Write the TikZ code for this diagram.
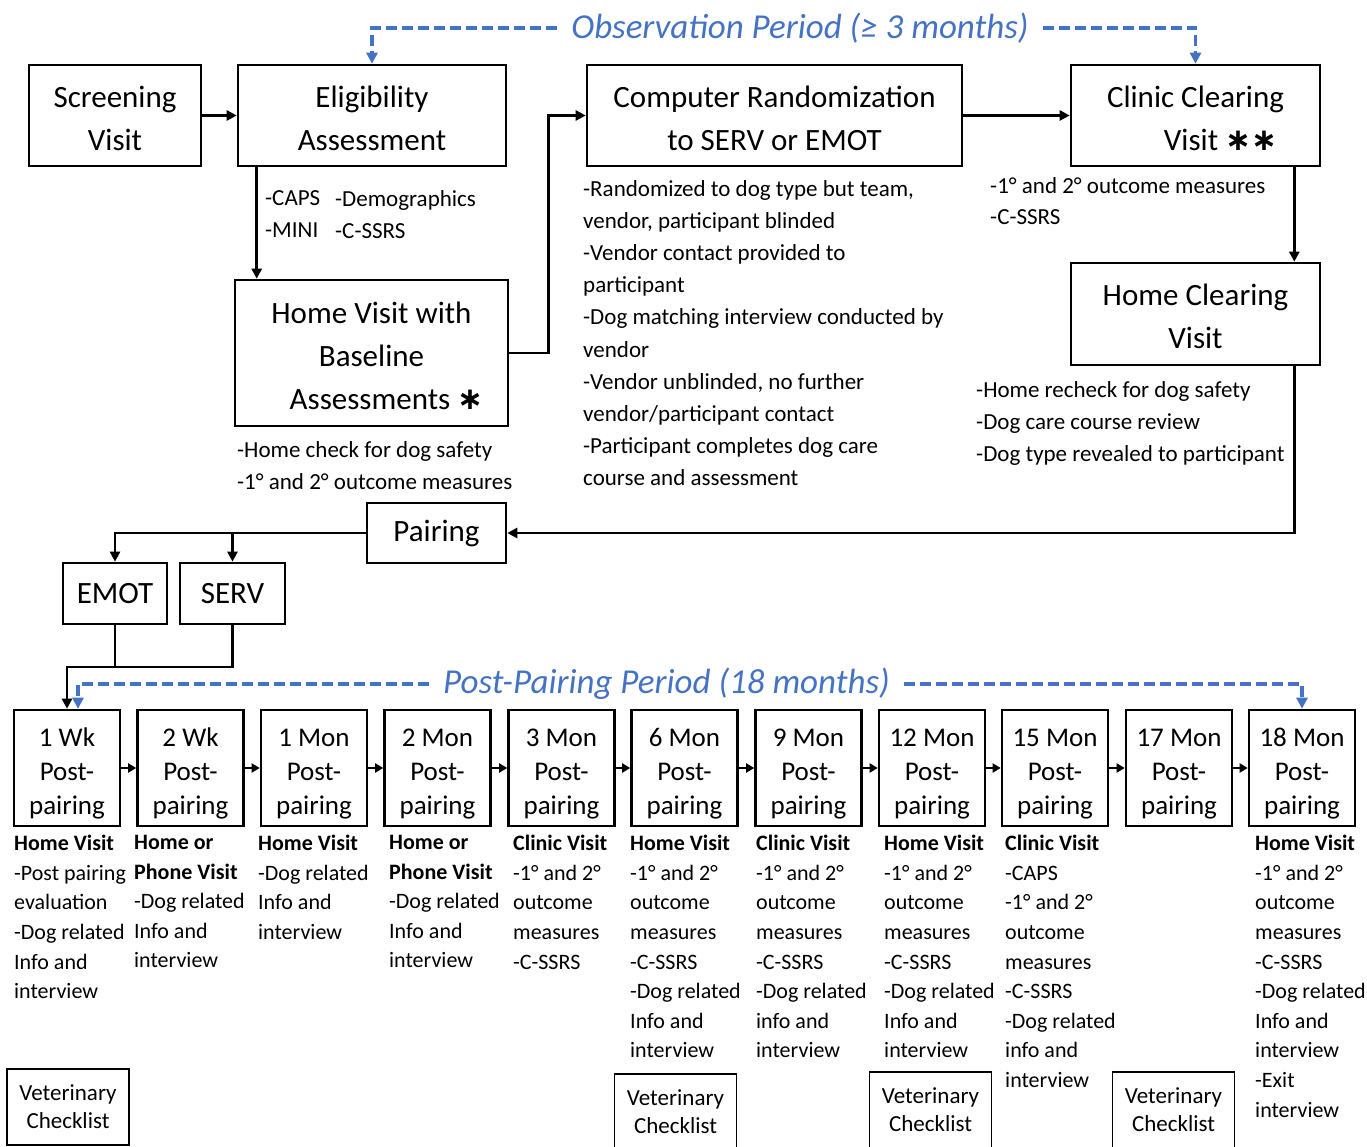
\documentclass[tikz,border=0pt]{standalone}
\usepackage{fontspec}
\setmainfont{Carlito}
\newfontfamily\starfont{DejaVu Sans}
\usetikzlibrary{arrows.meta}

\definecolor{perblue}{RGB}{68,114,196}
\newcommand{\bigstar}{{\starfont\bfseries ∗}}
\newcommand{\tup}[1]{\rule{0pt}{#1}}

\tikzset{
  box/.style={draw, line width=2.6pt, align=center, inner sep=0pt, font=\fontsize{31}{43}\selectfont},
  pbox/.style={draw, line width=2.6pt, align=center, inner sep=0pt, minimum width=106, minimum height=116, font=\fontsize{27}{34}\selectfont},
  vetbox/.style={draw, line width=1.3pt, align=center, inner sep=0pt, minimum width=122, minimum height=76, font=\fontsize{23}{28}\selectfont},
  desc/.style={anchor=north west, align=left, inner sep=0pt, font=\fontsize{23}{32.2}\selectfont},
  sdesc/.style={anchor=north west, align=left, inner sep=0pt, font=\fontsize{22}{29.6}\selectfont},
  conn/.style={line width=2.6pt, -{Triangle[length=10pt,width=10pt]}},
  link/.style={line width=2.6pt},
  period/.style={text=perblue, inner xsep=14pt, inner ysep=0pt, font=\fontsize{35}{40}\selectfont\itshape},
  pdash/.style={perblue, line width=3.5pt, dash pattern=on 11pt off 5pt, -{Triangle[length=11pt,width=11pt]}}
}

\begin{document}
\begin{tikzpicture}[x=1pt, y=-1pt]
  \useasboundingbox (0,0) rectangle (1367,1147);

  % upper part
  \node[box, minimum width=172, minimum height=101] (scr) at (115,115.5) {\tup{27pt}Screening\\Visit};
  \node[box, minimum width=268, minimum height=101] (elig) at (372,115.5) {\tup{27pt}Eligibility\\Assessment};
  \node[box, minimum width=375, minimum height=101] (rand) at (774.5,115.5) {\tup{27pt}Computer Randomization\\to SERV or EMOT};
  \node[box, minimum width=249, minimum height=101] (clinic) at (1195.5,115.5) {\tup{27pt}Clinic Clearing\\\hspace*{50pt}Visit \bigstar\bigstar};
  \node[box, minimum width=249, minimum height=102] (homeclr) at (1195.5,314) {\tup{27pt}Home Clearing\\Visit};
  \node[box, minimum width=273, minimum height=146] (homebase) at (371.5,353) {\tup{27pt}Home Visit with\\Baseline\\\hspace*{30pt}Assessments \bigstar};

  \node[desc] (eligA) at (265,190) {-CAPS\\-MINI};
  \node[desc] (eligB) at (335,190) {-Demographics\\-C-SSRS};
  \node[desc] (basedesc) at (237,441) {-Home check for dog safety\\-1° and 2° outcome measures};
  \node[desc] (randdesc) at (583,180) {-Randomized to dog type but team,\\vendor, participant blinded\\-Vendor contact provided to\\participant\\-Dog matching interview conducted by\\vendor\\-Vendor unblinded, no further\\vendor/participant contact\\-Participant completes dog care\\course and assessment};
  \node[desc, font=\fontsize{23}{31}\selectfont] (clinicdesc) at (990,177) {-1° and 2° outcome measures\\-C-SSRS};
  \node[desc] (clrdesc) at (976,381) {-Home recheck for dog safety\\-Dog care course review\\-Dog type revealed to participant};

  \node[period] (obs) at (800,28) {Observation Period (≥ 3 months)};
  \draw[pdash] (obs.west) -| (elig.north);
  \draw[pdash] (obs.east) -| (clinic.north);

  \draw[conn] (scr) -- (elig);
  \draw[conn] ([xshift=20]elig.south west) -- ([xshift=20]elig.south west |- homebase.north);
  \draw[conn] (homebase.east) -- ++(39,0) |- (rand.west);
  \draw[conn] (rand) -- (clinic);
  \draw[conn] ([xshift=-27]clinic.south east) -- ([xshift=-27]homeclr.north east);

  % pairing
  \node[box, minimum width=139, minimum height=60] (pairing) at (436.5,533) {Pairing};
  \node[box, minimum width=104, minimum height=61] (emot) at (115,593.5) {EMOT};
  \node[box, minimum width=105, minimum height=61] (serv) at (232.5,593.5) {SERV};

  \draw[conn] ([xshift=-27]homeclr.south east) |- (pairing.east);
  \draw[conn] (pairing.west) -| (emot.north);
  \draw[conn] (pairing.west) -| (serv.north);

  % post-pairing visits
  \node[pbox] (p1) at (67,768) {\tup{29pt}1 Wk\\Post-\\pairing};
  \node[pbox] (p2) at (190.5,768) {\tup{29pt}2 Wk\\Post-\\pairing};
  \node[pbox] (p3) at (314,768) {\tup{29pt}1 Mon\\Post-\\pairing};
  \node[pbox] (p4) at (437.5,768) {\tup{29pt}2 Mon\\Post-\\pairing};
  \node[pbox] (p5) at (561.5,768) {\tup{29pt}3 Mon\\Post-\\pairing};
  \node[pbox] (p6) at (684.5,768) {\tup{29pt}6 Mon\\Post-\\pairing};
  \node[pbox] (p7) at (808.5,768) {\tup{29pt}9 Mon\\Post-\\pairing};
  \node[pbox] (p8) at (932,768) {\tup{29pt}12 Mon\\Post-\\pairing};
  \node[pbox] (p9) at (1055,768) {\tup{29pt}15 Mon\\Post-\\pairing};
  \node[pbox] (p10) at (1179,768) {\tup{29pt}17 Mon\\Post-\\pairing};
  \node[pbox] (p11) at (1302,768) {\tup{29pt}18 Mon\\Post-\\pairing};

  \foreach \a/\b in {p1/p2,p2/p3,p3/p4,p4/p5,p5/p6,p6/p7,p7/p8,p8/p9,p9/p10,p10/p11}
    \draw[line width=2.6pt, -{Triangle[length=8pt,width=9pt]}] (\a) -- (\b);

  \coordinate (turn) at (67,667);
  \draw[link] (emot.south) -- (emot.south |- turn);
  \draw[conn] (serv.south) |- (turn) -- (p1.north);

  \node[period] (post) at (666.5,684) {Post-Pairing Period (18 months)};
  \draw[pdash] (post.west) -| ([xshift=11]p1.north);
  \draw[pdash] (post.east) -| (p11.north);

  \node[sdesc] (d1) at (14,835) {\textbf{Home Visit}\\-Post pairing\\evaluation\\-Dog related\\Info and\\interview};
  \node[sdesc] (d2) at (134,835) {\textbf{Home or}\\\textbf{Phone Visit}\\-Dog related\\Info and\\interview};
  \node[sdesc] (d3) at (258,835) {\textbf{Home Visit}\\-Dog related\\Info and\\interview};
  \node[sdesc] (d4) at (389,835) {\textbf{Home or}\\\textbf{Phone Visit}\\-Dog related\\Info and\\interview};
  \node[sdesc] (d5) at (513,835) {\textbf{Clinic Visit}\\-1° and 2°\\outcome\\measures\\-C-SSRS};
  \node[sdesc] (d6) at (630,835) {\textbf{Home Visit}\\-1° and 2°\\outcome\\measures\\-C-SSRS\\-Dog related\\Info and\\interview};
  \node[sdesc] (d7) at (756,835) {\textbf{Clinic Visit}\\-1° and 2°\\outcome\\measures\\-C-SSRS\\-Dog related\\info and\\interview};
  \node[sdesc] (d8) at (884,835) {\textbf{Home Visit}\\-1° and 2°\\outcome\\measures\\-C-SSRS\\-Dog related\\Info and\\interview};
  \node[sdesc] (d9) at (1005,835) {\textbf{Clinic Visit}\\-CAPS\\-1° and 2°\\outcome\\measures\\-C-SSRS\\-Dog related\\info and\\interview};
  \node[sdesc] (d11) at (1255,835) {\textbf{Home Visit}\\-1° and 2°\\outcome\\measures\\-C-SSRS\\-Dog related\\Info and\\interview\\-Exit\\interview};

  \node[vetbox] (vet1) at (68,1107) {Veterinary\\Checklist};
  \node[vetbox] (vet2) at (675.5,1112) {Veterinary\\Checklist};
  \node[vetbox] (vet3) at (930.5,1110) {Veterinary\\Checklist};
  \node[vetbox] (vet4) at (1173.5,1110) {Veterinary\\Checklist};
\end{tikzpicture}
\end{document}
